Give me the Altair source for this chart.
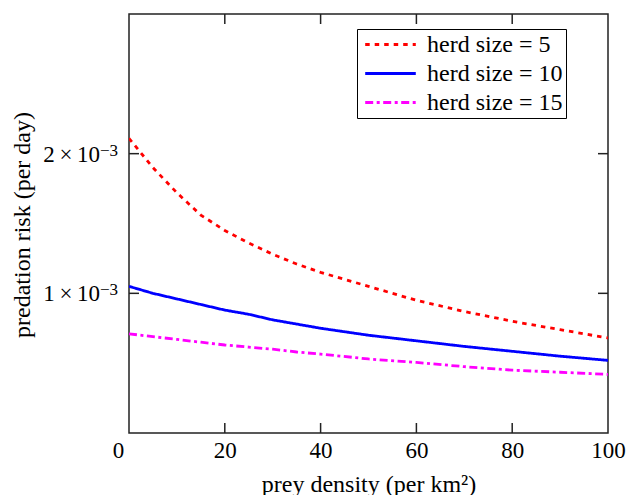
import altair as alt
import pandas as pd

# ---- data ----
density = [0, 5, 10, 15, 20, 25, 30, 35, 40, 50, 60, 70, 80, 90, 100]
risk_herd5 = [2.11, 1.90, 1.72, 1.56, 1.45, 1.36, 1.28, 1.21, 1.15, 1.05, 0.95, 0.87, 0.80, 0.74, 0.68]
risk_herd10 = [1.05, 1.00, 0.96, 0.92, 0.88, 0.85, 0.81, 0.78, 0.75, 0.70, 0.66, 0.62, 0.585, 0.55, 0.52]
risk_herd15 = [0.71, 0.69, 0.67, 0.65, 0.63, 0.615, 0.60, 0.58, 0.565, 0.53, 0.505, 0.475, 0.45, 0.435, 0.42]
herd_labels = ["herd size = 5", "herd size = 10", "herd size = 15"]
x_tick_values = [0, 20, 40, 60, 80, 100]
x_inner_ticks = [20, 40, 60, 80]
y_tick_values = [0.001, 0.002]
y_mantissa = ["1\u2009×\u200910", "2\u2009×\u200910"]
y_exponent = "−3"

rows = []
for lab, vals in zip(herd_labels, [risk_herd5, risk_herd10, risk_herd15]):
    for d, v in zip(density, vals):
        rows.append({"density": d, "risk": v * 1e-3, "herd": lab})
df = pd.DataFrame(rows)

W, H = 479, 419
FONT = "Liberation Serif"
FS = 23
TFS = 24
TICK = 10
AXC = "#222222"

xs = alt.Scale(domain=[0, 100], nice=False, zero=False)
ys = alt.Scale(domain=[0, 0.003], nice=False)

x_axis = alt.Axis(
    values=x_tick_values, ticks=False, domain=False, grid=False,
    labelFont=FONT, labelFontSize=FS, labelColor="black", labelPadding=6,
    labelFlush=False,
    labelOffset=alt.expr("datum.value == 0 ? -11 : 0"),
    title="prey density (per km²)", titleFont=FONT, titleFontSize=TFS,
    titleFontWeight="normal", titleColor="black", titlePadding=10)
y_axis = alt.Axis(
    values=y_tick_values, ticks=False, domain=False, grid=False, labels=False,
    title="predation risk (per day)", titleFont=FONT, titleFontSize=TFS,
    titleFontWeight="normal", titleColor="black",
    titleX=-107, titleY=H / 2 + 1, titleAngle=270, titleAlign="center", titleBaseline="middle")

legend = alt.Legend(
    title=None, orient="none", legendX=228, legendY=15,
    strokeColor="black", fillColor="white", padding=3,
    symbolType="M-2.3,0H2.3", symbolSize=484, symbolStrokeWidth=2.8,
    symbolOffset=18, labelOffset=24, labelFont=FONT, labelFontSize=TFS,
    labelColor="black", rowPadding=4, labelLimit=400,
    labelExpr="datum.label + '\u2002\u2002'",
)

lines = alt.Chart(df).mark_line(strokeWidth=2.8, clip=True).encode(
    x=alt.X("density:Q", scale=xs, axis=x_axis),
    y=alt.Y("risk:Q", scale=ys, axis=y_axis),
    color=alt.Color("herd:N", sort=herd_labels,
                    scale=alt.Scale(domain=herd_labels, range=["#ff0000", "#0000ff", "#ff00ff"]),
                    legend=legend),
    strokeDash=alt.StrokeDash("herd:N", sort=herd_labels,
                              scale=alt.Scale(domain=herd_labels,
                                              range=[[4.5, 5], [1, 0], [8, 3.5, 3, 3.5]]),
                              legend=legend),
)

xt = pd.DataFrame({"density": x_inner_ticks})
yt = pd.DataFrame({"risk": y_tick_values, "mant": y_mantissa,
                   "exp": [y_exponent] * len(y_tick_values)})
rule = dict(color=AXC, strokeWidth=1.5)

bottom_ticks = alt.Chart(xt).mark_rule(**rule).encode(
    x=alt.X("density:Q", scale=xs, axis=x_axis), y=alt.value(H), y2=alt.value(H - TICK))
top_ticks = alt.Chart(xt).mark_rule(**rule).encode(
    x=alt.X("density:Q", scale=xs, axis=x_axis), y=alt.value(0), y2=alt.value(TICK))
left_ticks = alt.Chart(yt).mark_rule(**rule).encode(
    y=alt.Y("risk:Q", scale=ys, axis=y_axis), x=alt.value(0), x2=alt.value(TICK))
right_ticks = alt.Chart(yt).mark_rule(**rule).encode(
    y=alt.Y("risk:Q", scale=ys, axis=y_axis), x=alt.value(W), x2=alt.value(W - TICK))
mantissas = alt.Chart(yt).mark_text(
    font=FONT, fontSize=FS, color="black", align="right", baseline="alphabetic", dy=8, clip=False
).encode(
    y=alt.Y("risk:Q", scale=ys, axis=y_axis), x=alt.value(-29), text="mant:N")
exponents = alt.Chart(yt).mark_text(
    font=FONT, fontSize=17, color="black", align="left", baseline="alphabetic", dy=2, clip=False
).encode(
    y=alt.Y("risk:Q", scale=ys, axis=y_axis), x=alt.value(-29), text="exp:N")

chart = alt.layer(lines, bottom_ticks, top_ticks, left_ticks, right_ticks,
                  mantissas, exponents).properties(
    width=W, height=H,
    autosize=alt.AutoSizeParams(type="none"),
    padding={"left": 129, "top": 14, "right": 20, "bottom": 62},
    background="white",
).configure_view(stroke=AXC, strokeWidth=1.5)

chart.save("out.html", embed_options={"renderer": "svg", "actions": False})
